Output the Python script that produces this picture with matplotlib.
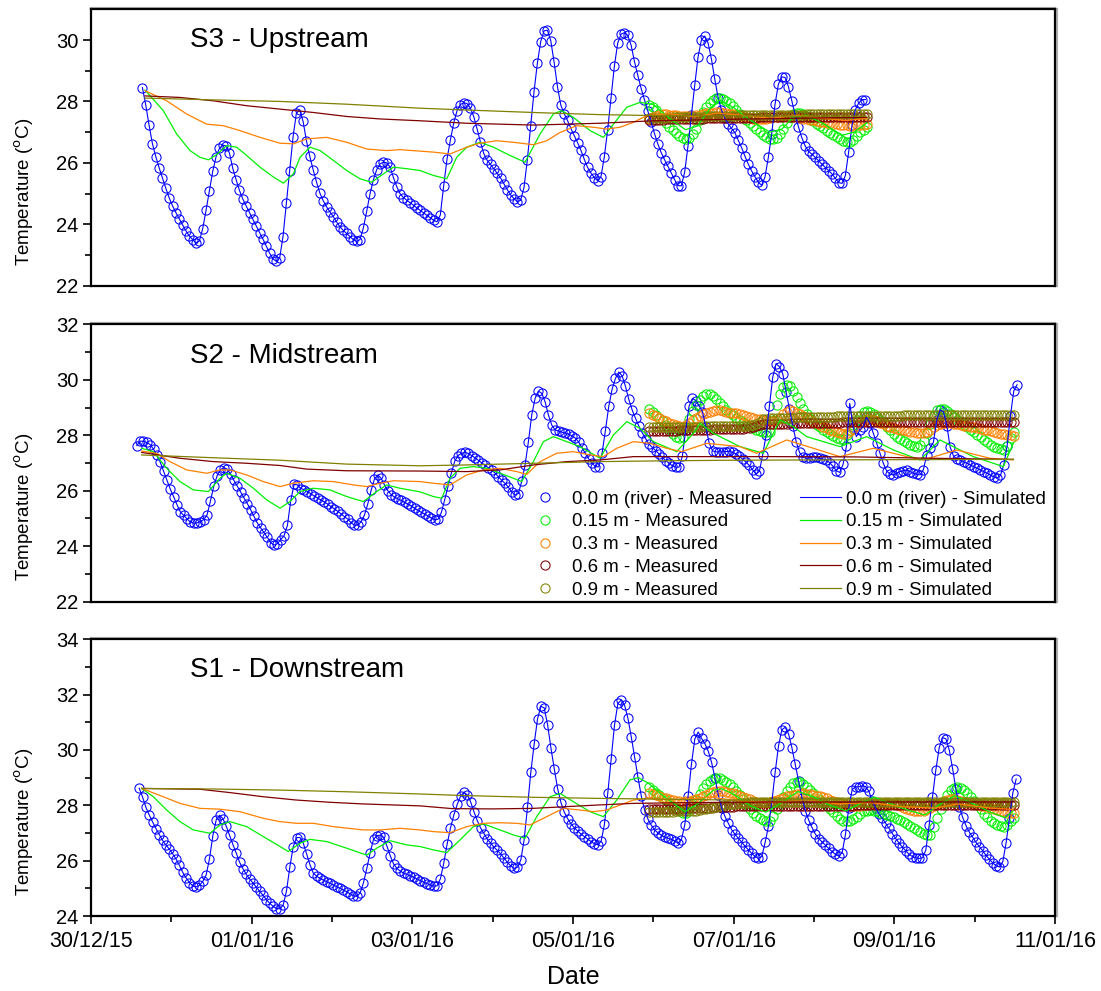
import numpy as np
import matplotlib
matplotlib.use('Agg')
import matplotlib.pyplot as plt
import matplotlib.dates as mdates
import matplotlib.patheffects as pe
from matplotlib.ticker import FixedLocator
import datetime as dt

plt.rcParams['font.family'] = ['Liberation Sans', 'DejaVu Sans']

# ---------------- data (time = days since 30/12/2015 00:00, value = degC) ----------------
DATE0 = dt.datetime(2015, 12, 30)
XTICK_DAYS = [0, 2, 4, 6, 8, 10, 12]
XMINOR_DAYS = [1, 3, 5, 7, 9, 11]

LABELS_MEAS = ['0.0 m (river) - Measured', '0.15 m - Measured', '0.3 m - Measured',
               '0.6 m - Measured', '0.9 m - Measured']
LABELS_SIM = ['0.0 m (river) - Simulated', '0.15 m - Simulated', '0.3 m - Simulated',
              '0.6 m - Simulated', '0.9 m - Simulated']
TITLES = ['S3 - Upstream', 'S2 - Midstream', 'S1 - Downstream']

# hourly logger records; first record time (days) given separately
DEPTH_START = 6.95
S3_RIVER_START = 0.64
S2_RIVER_START = 0.57
S1_RIVER_START = 0.60

# ---- S3 upstream ----
S3_RIVER = [28.45, 27.88, 27.22, 26.62, 26.20, 25.84, 25.50, 25.17, 24.86, 24.60,
            24.38, 24.18, 23.98, 23.79, 23.62, 23.50, 23.40, 23.45, 23.85, 24.45,
            25.08, 25.72, 26.20, 26.47, 26.58, 26.55, 26.32, 25.82, 25.45, 25.10,
            24.82, 24.60, 24.38, 24.16, 23.95, 23.73, 23.52, 23.29, 23.06, 22.88,
            22.79, 22.90, 23.60, 24.68, 25.75, 26.84, 27.62, 27.72, 27.35, 26.72,
            26.21, 25.78, 25.38, 25.02, 24.77, 24.57, 24.41, 24.25, 24.08, 23.92,
            23.80, 23.70, 23.60, 23.50, 23.44, 23.50, 23.88, 24.42, 24.99, 25.45,
            25.78, 25.97, 26.02, 26.00, 25.86, 25.52, 25.22, 24.99, 24.87, 24.78,
            24.70, 24.62, 24.53, 24.45, 24.37, 24.29, 24.21, 24.13, 24.08, 24.30,
            25.25, 26.12, 26.74, 27.30, 27.70, 27.90, 27.96, 27.93, 27.78, 27.50,
            27.10, 26.67, 26.30, 26.08, 25.95, 25.80, 25.66, 25.51, 25.32, 25.13,
            24.96, 24.83, 24.74, 24.78, 25.20, 26.10, 27.20, 28.32, 29.25, 29.95,
            30.30, 30.32, 29.98, 29.27, 28.48, 27.88, 27.60, 27.38, 27.12, 26.89,
            26.66, 26.41, 26.12, 25.85, 25.67, 25.52, 25.42, 25.55, 26.20, 27.08,
            28.12, 29.15, 29.90, 30.19, 30.24, 30.15, 29.83, 29.30, 28.85, 28.42,
            28.05, 27.68, 27.32, 26.95, 26.61, 26.33, 26.10, 25.89, 25.67, 25.45,
            25.26, 25.25, 25.70, 26.55, 27.55, 28.52, 29.45, 30.00, 30.13, 29.90,
            29.38, 28.72, 28.12, 27.72, 27.45, 27.27, 27.12, 26.98, 26.74, 26.50,
            26.22, 25.96, 25.74, 25.55, 25.37, 25.27, 25.54, 26.18, 26.94, 27.91,
            28.56, 28.80, 28.78, 28.48, 28.02, 27.57, 27.17, 26.82, 26.55, 26.38,
            26.28, 26.18, 26.07, 25.96, 25.85, 25.75, 25.64, 25.50, 25.36, 25.33,
            25.58, 26.36, 27.22, 27.73, 27.95, 28.06, 28.06]
S3_M015 = [27.89, 27.81, 27.72, 27.59, 27.45, 27.31, 27.18, 27.06, 26.96, 26.87,
           26.81, 26.79, 26.82, 26.93, 27.10, 27.38, 27.65, 27.83, 27.95, 28.04,
           28.10, 28.11, 28.08, 28.03, 27.95, 27.84, 27.71, 27.59, 27.48, 27.38,
           27.29, 27.20, 27.11, 27.01, 26.92, 26.85, 26.79, 26.78, 26.82, 26.94,
           27.10, 27.30, 27.48, 27.58, 27.63, 27.62, 27.59, 27.53, 27.45, 27.36,
           27.27, 27.19, 27.12, 27.05, 26.98, 26.91, 26.84, 26.78, 26.72, 26.69,
           26.68, 26.76, 26.89, 26.99, 27.08, 27.16]
S3_M030 = [27.43, 27.48, 27.52, 27.56, 27.58, 27.58, 27.57, 27.56, 27.55, 27.54,
           27.53, 27.52, 27.52, 27.53, 27.55, 27.57, 27.59, 27.61, 27.62, 27.63,
           27.64, 27.64, 27.63, 27.62, 27.60, 27.58, 27.55, 27.52, 27.50, 27.48,
           27.46, 27.44, 27.43, 27.42, 27.42, 27.43, 27.45, 27.48, 27.50, 27.52,
           27.53, 27.53, 27.52, 27.50, 27.48, 27.46, 27.44, 27.42, 27.40, 27.38,
           27.36, 27.34, 27.32, 27.30, 27.29, 27.27, 27.26, 27.24, 27.23, 27.22,
           27.21, 27.21, 27.22, 27.23, 27.24, 27.25]
S3_M060 = [27.40, 27.40, 27.41, 27.41, 27.41, 27.42, 27.42, 27.42, 27.42, 27.43,
           27.43, 27.43, 27.43, 27.44, 27.44, 27.44, 27.44, 27.45, 27.45, 27.45,
           27.45, 27.45, 27.46, 27.46, 27.46, 27.46, 27.46, 27.47, 27.47, 27.47,
           27.47, 27.47, 27.47, 27.48, 27.48, 27.48, 27.48, 27.48, 27.48, 27.48,
           27.48, 27.48, 27.48, 27.48, 27.49, 27.49, 27.49, 27.49, 27.49, 27.49,
           27.49, 27.49, 27.49, 27.49, 27.49, 27.49, 27.49, 27.49, 27.49, 27.49,
           27.49, 27.49, 27.49, 27.49, 27.49, 27.49]
S3_M090 = [27.46, 27.46, 27.47, 27.47, 27.47, 27.47, 27.48, 27.48, 27.48, 27.49,
           27.49, 27.49, 27.49, 27.50, 27.50, 27.50, 27.50, 27.51, 27.51, 27.52,
           27.52, 27.53, 27.53, 27.54, 27.54, 27.54, 27.54, 27.55, 27.55, 27.55,
           27.55, 27.55, 27.55, 27.56, 27.56, 27.56, 27.56, 27.56, 27.56, 27.57,
           27.57, 27.57, 27.57, 27.57, 27.57, 27.57, 27.57, 27.58, 27.58, 27.58,
           27.58, 27.58, 27.58, 27.58, 27.58, 27.58, 27.58, 27.58, 27.58, 27.58,
           27.58, 27.58, 27.58, 27.58, 27.58, 27.58]
S3_S015 = [(0.672, 28.37), (0.900, 27.70), (1.066, 26.94), (1.232, 26.40), (1.357, 26.18),
           (1.461, 26.10), (1.564, 26.27), (1.689, 26.56), (1.813, 26.51), (1.938, 26.24),
           (2.104, 25.86), (2.270, 25.54), (2.394, 25.34), (2.519, 25.64), (2.602, 26.18),
           (2.726, 26.51), (2.851, 26.40), (3.017, 26.08), (3.183, 25.75), (3.349, 25.48),
           (3.494, 25.37), (3.639, 25.64), (3.764, 25.86), (3.929, 25.81), (4.096, 25.75),
           (4.262, 25.59), (4.428, 25.48), (4.552, 26.18), (4.677, 26.51), (4.843, 26.67),
           (5.009, 26.51), (5.216, 26.24), (5.403, 26.02), (5.590, 26.94), (5.756, 27.59),
           (5.859, 27.70), (6.005, 27.48), (6.212, 27.05), (6.378, 26.83), (6.503, 27.26),
           (6.669, 27.81), (6.835, 27.97), (7.000, 27.90), (7.200, 27.45), (7.400, 27.08),
           (7.550, 27.20), (7.700, 27.75), (7.820, 28.05), (8.000, 27.80), (8.200, 27.40),
           (8.450, 27.00), (8.600, 27.10), (8.750, 27.50), (8.900, 27.55), (9.100, 27.30),
           (9.350, 26.90), (9.500, 27.00), (9.656, 27.30)]
S3_S030 = [(0.672, 28.35), (0.942, 28.02), (1.191, 27.59), (1.440, 27.26), (1.647, 27.21),
           (1.855, 27.05), (2.104, 26.83), (2.353, 26.64), (2.519, 26.62), (2.685, 26.78),
           (2.934, 26.83), (3.183, 26.67), (3.432, 26.45), (3.680, 26.40), (3.846, 26.43),
           (4.262, 26.35), (4.469, 26.29), (4.677, 26.51), (4.843, 26.64), (5.050, 26.72),
           (5.258, 26.67), (5.507, 26.59), (5.673, 26.72), (5.839, 26.99), (6.046, 27.21),
           (6.254, 27.16), (6.420, 27.10), (6.586, 27.16), (6.752, 27.32), (6.918, 27.54),
           (7.200, 27.60), (7.500, 27.50), (7.800, 27.62), (8.100, 27.55), (8.450, 27.45),
           (8.800, 27.55), (9.100, 27.45), (9.400, 27.38), (9.656, 27.45)]
S3_S060 = [(0.672, 28.18), (1.108, 28.13), (1.523, 28.02), (1.938, 27.86), (2.353, 27.75),
           (2.768, 27.64), (3.183, 27.51), (3.597, 27.43), (4.095, 27.37), (4.677, 27.29),
           (5.507, 27.23), (6.337, 27.29), (7.000, 27.37), (8.000, 27.42), (9.000, 27.46),
           (9.656, 27.48)]
S3_S090 = [(0.672, 28.11), (1.523, 28.05), (2.353, 28.00), (3.183, 27.91), (4.095, 27.78),
           (4.677, 27.72), (5.507, 27.64), (6.337, 27.57), (7.000, 27.54), (8.000, 27.53),
           (9.000, 27.52), (9.656, 27.52)]

# ---- S2 midstream ----
S2_RIVER = [27.63, 27.79, 27.78, 27.74, 27.66, 27.50, 27.28, 27.03, 26.71, 26.38,
            26.06, 25.79, 25.50, 25.24, 25.11, 24.99, 24.87, 24.83, 24.84, 24.89,
            24.96, 25.13, 25.63, 26.16, 26.54, 26.76, 26.83, 26.78, 26.60, 26.38,
            26.17, 25.96, 25.75, 25.54, 25.32, 25.08, 24.84, 24.66, 24.49, 24.32,
            24.13, 24.04, 24.09, 24.24, 24.38, 24.75, 25.65, 26.23, 26.21, 26.08,
            26.04, 25.97, 25.89, 25.81, 25.74, 25.67, 25.60, 25.52, 25.43, 25.35,
            25.26, 25.17, 25.07, 24.98, 24.85, 24.76, 24.76, 24.88, 25.12, 25.52,
            26.01, 26.42, 26.57, 26.45, 26.21, 26.00, 25.86, 25.77, 25.71, 25.65,
            25.58, 25.52, 25.45, 25.37, 25.29, 25.22, 25.16, 25.09, 25.02, 24.96,
            24.97, 25.22, 25.68, 26.16, 26.65, 27.07, 27.27, 27.35, 27.38, 27.35,
            27.27, 27.19, 27.10, 27.01, 26.92, 26.83, 26.74, 26.64, 26.51, 26.38,
            26.27, 26.13, 25.96, 25.85, 25.90, 26.34, 26.93, 27.77, 28.74, 29.33,
            29.59, 29.51, 29.20, 28.72, 28.36, 28.19, 28.15, 28.11, 28.08, 28.04,
            27.98, 27.90, 27.76, 27.55, 27.35, 27.15, 26.99, 26.87, 26.86, 27.35,
            28.17, 29.04, 29.66, 30.05, 30.28, 30.14, 29.76, 29.29, 28.91, 28.61,
            28.33, 28.09, 27.88, 27.69, 27.56, 27.45, 27.33, 27.20, 27.09, 26.99,
            26.90, 26.85, 26.85, 27.25, 28.20, 29.05, 29.33, 29.25, 29.06, 28.85,
            28.30, 27.72, 27.44, 27.40, 27.40, 27.40, 27.41, 27.42, 27.38, 27.33,
            27.24, 27.14, 27.03, 26.91, 26.75, 26.61, 26.70, 27.30, 28.00, 29.05,
            30.10, 30.58, 30.47, 30.21, 29.55, 28.93, 28.33, 27.77, 27.38, 27.21,
            27.17, 27.19, 27.22, 27.20, 27.17, 27.14, 27.11, 27.01, 26.88, 26.72,
            26.66, 26.95, 27.60, 29.15, 28.30, 27.95, 28.19, 28.31, 28.65, 28.44,
            28.09, 27.73, 27.37, 27.00, 26.72, 26.60, 26.57, 26.63, 26.69, 26.72,
            26.75, 26.69, 26.63, 26.60, 26.57, 26.76, 27.30, 27.55, 27.75, 28.55,
            28.91, 28.84, 28.35, 27.57, 27.25, 27.15, 27.10, 27.05, 26.99, 26.93,
            26.87, 26.81, 26.75, 26.69, 26.63, 26.57, 26.50, 26.46, 26.55, 26.92,
            27.60, 28.70, 29.60, 29.82]
S2_M015 = [28.95, 28.84, 28.72, 28.61, 28.50, 28.36, 28.21, 28.06, 27.95, 27.90,
           27.95, 28.25, 28.60, 28.88, 29.10, 29.28, 29.40, 29.48, 29.50, 29.42,
           29.30, 29.17, 29.05, 28.92, 28.80, 28.72, 28.64, 28.56, 28.48, 28.40,
           28.32, 28.25, 28.19, 28.15, 28.12, 28.11, 28.13, 28.55, 29.10, 29.48,
           29.75, 29.80, 29.78, 29.60, 29.38, 29.16, 28.95, 28.75, 28.58, 28.47,
           28.38, 28.28, 28.19, 28.11, 28.03, 27.96, 27.90, 27.87, 27.88, 28.02,
           28.20, 28.38, 28.55, 28.71, 28.83, 28.87, 28.85, 28.75, 28.64, 28.54,
           28.43, 28.31, 28.18, 28.06, 27.95, 27.86, 27.78, 27.72, 27.66, 27.61,
           27.56, 27.64, 27.80, 28.08, 28.40, 28.68, 28.90, 28.96, 28.95, 28.86,
           28.75, 28.65, 28.55, 28.47, 28.38, 28.29, 28.20, 28.11, 28.02, 27.93,
           27.84, 27.75, 27.66, 27.59, 27.53, 27.49, 27.47, 27.62, 27.90, 28.10]
S2_M030 = [28.80, 28.74, 28.68, 28.61, 28.55, 28.50, 28.45, 28.40, 28.36, 28.32,
           28.31, 28.37, 28.45, 28.54, 28.62, 28.69, 28.75, 28.81, 28.85, 28.88,
           28.90, 28.90, 28.88, 28.85, 28.82, 28.80, 28.79, 28.76, 28.72, 28.68,
           28.65, 28.62, 28.60, 28.57, 28.54, 28.52, 28.50, 28.51, 28.55, 28.64,
           28.75, 28.84, 28.90, 28.87, 28.82, 28.76, 28.70, 28.62, 28.55, 28.49,
           28.43, 28.37, 28.31, 28.25, 28.20, 28.15, 28.10, 28.07, 28.06, 28.09,
           28.15, 28.24, 28.35, 28.44, 28.52, 28.57, 28.60, 28.56, 28.50, 28.45,
           28.40, 28.35, 28.30, 28.26, 28.23, 28.20, 28.18, 28.15, 28.12, 28.10,
           28.08, 28.07, 28.07, 28.12, 28.20, 28.29, 28.38, 28.42, 28.44, 28.44,
           28.43, 28.42, 28.40, 28.38, 28.35, 28.33, 28.30, 28.28, 28.25, 28.23,
           28.20, 28.18, 28.15, 28.12, 28.08, 28.05, 28.03, 28.01, 28.00, 27.99]
S2_M060 = [28.15, 28.15, 28.15, 28.16, 28.16, 28.16, 28.17, 28.17, 28.17, 28.18,
           28.18, 28.18, 28.18, 28.19, 28.19, 28.19, 28.20, 28.20, 28.20, 28.21,
           28.21, 28.21, 28.21, 28.22, 28.22, 28.22, 28.23, 28.23, 28.24, 28.25,
           28.26, 28.30, 28.35, 28.38, 28.40, 28.40, 28.41, 28.41, 28.42, 28.42,
           28.42, 28.42, 28.43, 28.43, 28.43, 28.43, 28.44, 28.44, 28.44, 28.44,
           28.44, 28.44, 28.45, 28.45, 28.45, 28.45, 28.45, 28.45, 28.46, 28.46,
           28.46, 28.46, 28.46, 28.46, 28.46, 28.46, 28.47, 28.47, 28.47, 28.47,
           28.47, 28.47, 28.47, 28.47, 28.47, 28.47, 28.47, 28.48, 28.48, 28.48,
           28.48, 28.48, 28.48, 28.48, 28.48, 28.48, 28.48, 28.48, 28.48, 28.48,
           28.48, 28.48, 28.48, 28.48, 28.48, 28.48, 28.48, 28.48, 28.48, 28.48,
           28.48, 28.48, 28.48, 28.48, 28.48, 28.48, 28.48, 28.48, 28.48, 28.48]
S2_M090 = [28.28, 28.28, 28.28, 28.28, 28.29, 28.29, 28.29, 28.29, 28.30, 28.30,
           28.30, 28.30, 28.31, 28.31, 28.31, 28.31, 28.32, 28.32, 28.32, 28.32,
           28.33, 28.33, 28.33, 28.33, 28.34, 28.34, 28.34, 28.34, 28.35, 28.35,
           28.36, 28.37, 28.40, 28.48, 28.58, 28.60, 28.62, 28.62, 28.63, 28.63,
           28.64, 28.64, 28.64, 28.64, 28.65, 28.65, 28.65, 28.65, 28.66, 28.66,
           28.66, 28.66, 28.67, 28.67, 28.67, 28.67, 28.68, 28.68, 28.68, 28.68,
           28.69, 28.69, 28.69, 28.69, 28.70, 28.70, 28.70, 28.70, 28.70, 28.70,
           28.71, 28.71, 28.71, 28.71, 28.71, 28.71, 28.72, 28.72, 28.72, 28.72,
           28.72, 28.72, 28.72, 28.72, 28.73, 28.73, 28.73, 28.73, 28.73, 28.73,
           28.73, 28.73, 28.73, 28.73, 28.73, 28.73, 28.74, 28.74, 28.74, 28.74,
           28.74, 28.74, 28.74, 28.74, 28.74, 28.74, 28.74, 28.74, 28.74, 28.74]
S2_S015 = [(0.631, 27.53), (0.776, 27.41), (0.942, 26.81), (1.108, 26.33), (1.274, 26.03),
           (1.461, 25.97), (1.606, 26.45), (1.689, 26.63), (1.855, 26.45), (2.021, 26.09),
           (2.187, 25.67), (2.353, 25.37), (2.477, 25.61), (2.602, 25.97), (2.768, 26.09),
           (2.975, 26.03), (3.183, 25.79), (3.390, 25.61), (3.556, 25.97), (3.680, 26.21),
           (3.846, 26.09), (4.096, 25.96), (4.262, 25.79), (4.366, 25.73), (4.469, 26.45),
           (4.594, 26.81), (4.760, 26.87), (4.926, 26.81), (5.092, 26.63), (5.258, 26.45),
           (5.361, 26.33), (5.507, 27.05), (5.631, 27.77), (5.756, 27.95), (5.922, 27.77),
           (6.088, 27.59), (6.337, 27.17), (6.503, 28.01), (6.669, 28.49), (6.835, 28.25),
           (7.000, 27.77), (7.291, 27.41), (7.498, 28.07), (7.581, 28.43), (7.747, 28.07),
           (8.079, 27.59), (8.369, 27.35), (8.577, 28.55), (8.743, 28.31), (8.909, 27.95),
           (9.324, 27.59), (9.656, 27.95), (9.988, 27.47), (10.320, 27.11), (10.568, 27.83),
           (10.983, 27.23), (11.357, 26.87), (11.481, 27.71)]
S2_S030 = [(0.631, 27.43), (0.817, 27.35), (0.983, 27.05), (1.191, 26.75), (1.440, 26.63),
           (1.606, 26.75), (1.730, 26.75), (1.938, 26.57), (2.145, 26.33), (2.353, 26.15),
           (2.519, 26.27), (2.768, 26.36), (3.017, 26.33), (3.266, 26.21), (3.432, 26.15),
           (3.597, 26.27), (3.763, 26.36), (4.096, 26.33), (4.262, 26.27), (4.469, 26.21),
           (4.677, 26.57), (4.884, 26.75), (5.092, 26.81), (5.299, 26.69), (5.424, 26.59),
           (5.590, 27.05), (5.797, 27.35), (6.005, 27.41), (6.212, 27.29), (6.378, 27.23),
           (6.544, 27.53), (6.752, 27.77), (6.959, 27.71), (7.166, 27.53), (7.353, 27.41),
           (7.664, 27.71), (8.079, 27.59), (8.286, 27.35), (8.660, 27.83), (8.992, 27.53),
           (9.324, 27.23), (9.739, 27.53), (10.154, 27.23), (10.361, 27.11), (10.776, 27.47),
           (11.191, 27.17), (11.481, 27.11)]
S2_S060 = [(0.631, 27.38), (1.108, 27.17), (1.523, 27.05), (1.938, 26.99), (2.353, 26.91),
           (2.685, 26.78), (3.183, 26.72), (4.095, 26.71), (4.677, 26.69), (5.092, 26.75),
           (5.507, 26.93), (5.922, 27.05), (6.337, 27.11), (6.752, 27.23), (7.500, 27.23),
           (8.500, 27.23), (9.500, 27.22), (10.500, 27.17), (11.481, 27.13)]
S2_S090 = [(0.631, 27.29), (1.523, 27.19), (2.353, 27.10), (3.183, 26.96), (4.095, 26.90),
           (4.677, 26.93), (5.507, 26.99), (6.337, 27.05), (7.166, 27.08), (8.000, 27.10),
           (9.000, 27.11), (10.000, 27.12), (11.481, 27.13)]

# ---- S1 downstream ----
S1_RIVER = [28.62, 28.30, 27.93, 27.65, 27.40, 27.16, 26.94, 26.73, 26.56, 26.42,
            26.25, 26.06, 25.83, 25.58, 25.38, 25.21, 25.09, 25.05, 25.11, 25.25,
            25.48, 26.07, 26.90, 27.47, 27.64, 27.52, 27.25, 26.91, 26.58, 26.27,
            25.94, 25.71, 25.50, 25.34, 25.19, 25.04, 24.89, 24.75, 24.59, 24.46,
            24.35, 24.27, 24.26, 24.39, 24.90, 25.77, 26.50, 26.83, 26.84, 26.64,
            26.25, 25.86, 25.55, 25.44, 25.36, 25.30, 25.24, 25.18, 25.12, 25.06,
            25.00, 24.94, 24.88, 24.80, 24.73, 24.71, 24.83, 25.20, 25.72, 26.29,
            26.77, 26.90, 26.92, 26.85, 26.53, 26.18, 25.88, 25.72, 25.62, 25.55,
            25.50, 25.45, 25.40, 25.34, 25.28, 25.22, 25.17, 25.12, 25.08, 25.09,
            25.35, 25.92, 26.60, 27.18, 27.65, 28.03, 28.33, 28.47, 28.38, 28.13,
            27.77, 27.45, 27.18, 26.98, 26.78, 26.63, 26.49, 26.37, 26.24, 26.09,
            25.94, 25.81, 25.72, 25.76, 26.02, 26.75, 27.93, 29.20, 30.22, 31.12,
            31.58, 31.52, 30.92, 30.08, 29.32, 28.60, 28.10, 27.75, 27.52, 27.33,
            27.19, 27.07, 26.96, 26.87, 26.78, 26.69, 26.61, 26.57, 26.70, 27.32,
            28.45, 29.68, 30.90, 31.68, 31.80, 31.62, 31.15, 30.48, 29.75, 29.02,
            28.34, 27.82, 27.50, 27.28, 27.11, 27.00, 26.92, 26.85, 26.81, 26.77,
            26.71, 26.64, 26.76, 27.30, 28.35, 29.50, 30.40, 30.65, 30.42, 30.23,
            29.96, 29.55, 29.00, 28.38, 27.90, 27.60, 27.35, 27.12, 26.95, 26.81,
            26.67, 26.52, 26.39, 26.26, 26.15, 26.08, 26.15, 26.66, 27.25, 28.11,
            29.20, 30.15, 30.73, 30.82, 30.58, 30.08, 29.48, 28.88, 28.28, 27.81,
            27.47, 27.20, 26.96, 26.80, 26.68, 26.56, 26.44, 26.33, 26.23, 26.17,
            26.28, 26.95, 27.92, 28.57, 28.67, 28.67, 28.70, 28.68, 28.51, 28.15,
            27.90, 27.70, 27.53, 27.35, 27.17, 26.98, 26.80, 26.64, 26.49, 26.36,
            26.23, 26.15, 26.10, 26.08, 26.10, 26.38, 27.28, 28.30, 29.28, 30.08,
            30.45, 30.40, 30.00, 29.33, 28.58, 27.95, 27.57, 27.27, 27.03, 26.85,
            26.66, 26.51, 26.36, 26.19, 26.05, 25.92, 25.82, 25.77, 25.96, 26.65,
            27.55, 28.45, 28.95]
S1_M015 = [28.65, 28.55, 28.45, 28.37, 28.28, 28.18, 28.08, 27.99, 27.90, 27.81,
           27.74, 27.74, 27.85, 28.01, 28.20, 28.42, 28.62, 28.77, 28.88, 28.95,
           28.98, 28.97, 28.92, 28.86, 28.78, 28.66, 28.52, 28.37, 28.22, 28.05,
           27.88, 27.73, 27.60, 27.53, 27.48, 27.44, 27.42, 27.60, 27.85, 28.08,
           28.30, 28.50, 28.67, 28.79, 28.85, 28.83, 28.78, 28.67, 28.55, 28.44,
           28.32, 28.20, 28.08, 27.98, 27.88, 27.75, 27.62, 27.52, 27.45, 27.43,
           27.45, 27.51, 27.58, 27.68, 27.78, 27.81, 27.82, 27.81, 27.78, 27.74,
           27.70, 27.66, 27.62, 27.57, 27.52, 27.46, 27.40, 27.33, 27.25, 27.17,
           27.10, 27.02, 26.95, 26.92, 26.92, 27.20, 27.55, 27.86, 28.15, 28.37,
           28.55, 28.62, 28.65, 28.61, 28.55, 28.43, 28.30, 28.15, 28.00, 27.85,
           27.70, 27.57, 27.45, 27.36, 27.28, 27.24, 27.22, 27.30, 27.45, 27.55]
S1_M030 = [28.43, 28.40, 28.36, 28.32, 28.28, 28.25, 28.22, 28.19, 28.16, 28.14,
           28.13, 28.14, 28.17, 28.20, 28.23, 28.28, 28.33, 28.38, 28.43, 28.48,
           28.52, 28.52, 28.50, 28.48, 28.45, 28.43, 28.40, 28.35, 28.30, 28.26,
           28.22, 28.17, 28.13, 28.10, 28.07, 28.09, 28.12, 28.16, 28.20, 28.24,
           28.28, 28.32, 28.35, 28.38, 28.40, 28.42, 28.43, 28.42, 28.40, 28.38,
           28.35, 28.32, 28.29, 28.25, 28.20, 28.16, 28.12, 28.08, 28.04, 28.00,
           27.97, 27.96, 27.96, 27.98, 28.00, 28.02, 28.04, 28.06, 28.07, 28.07,
           28.07, 28.06, 28.05, 28.03, 28.00, 27.96, 27.92, 27.88, 27.84, 27.81,
           27.78, 27.78, 27.80, 27.86, 27.92, 27.98, 28.03, 28.09, 28.14, 28.19,
           28.24, 28.23, 28.20, 28.16, 28.13, 28.10, 28.08, 28.05, 28.02, 27.99,
           27.96, 27.93, 27.90, 27.86, 27.82, 27.79, 27.76, 27.74, 27.72, 27.71]
S1_M060 = [27.85, 27.85, 27.86, 27.86, 27.86, 27.87, 27.87, 27.87, 27.88, 27.88,
           27.88, 27.89, 27.89, 27.89, 27.90, 27.90, 27.91, 27.92, 27.92, 27.93,
           27.93, 27.94, 27.94, 27.95, 27.95, 27.95, 27.96, 27.96, 27.96, 27.96,
           27.97, 27.97, 27.97, 27.97, 27.97, 27.97, 27.97, 27.98, 27.98, 27.98,
           27.98, 27.98, 27.98, 27.98, 27.98, 27.98, 27.98, 27.98, 27.99, 27.99,
           27.99, 27.99, 27.99, 27.99, 27.99, 27.99, 27.99, 27.99, 27.99, 27.99,
           27.99, 27.99, 28.00, 28.00, 28.00, 28.00, 28.00, 28.00, 28.00, 28.00,
           28.00, 28.00, 28.00, 28.00, 28.00, 28.00, 28.00, 28.00, 28.00, 28.00,
           28.00, 28.00, 28.00, 28.00, 28.00, 28.00, 28.00, 28.00, 28.00, 28.00,
           28.00, 28.00, 28.00, 28.00, 28.00, 28.00, 28.00, 28.00, 28.00, 28.00,
           28.00, 28.00, 28.00, 28.00, 28.00, 28.00, 28.00, 28.00, 28.00, 28.00]
S1_M090 = [27.76, 27.76, 27.76, 27.76, 27.77, 27.77, 27.77, 27.77, 27.78, 27.78,
           27.78, 27.78, 27.79, 27.79, 27.80, 27.82, 27.85, 27.87, 27.90, 27.92,
           27.95, 27.97, 28.00, 28.02, 28.03, 28.05, 28.06, 28.08, 28.10, 28.10,
           28.11, 28.11, 28.12, 28.12, 28.12, 28.12, 28.12, 28.12, 28.12, 28.12,
           28.12, 28.12, 28.12, 28.12, 28.12, 28.12, 28.12, 28.12, 28.13, 28.13,
           28.13, 28.13, 28.13, 28.13, 28.13, 28.13, 28.13, 28.13, 28.13, 28.13,
           28.13, 28.13, 28.13, 28.13, 28.13, 28.13, 28.13, 28.13, 28.13, 28.13,
           28.13, 28.13, 28.13, 28.13, 28.13, 28.13, 28.13, 28.13, 28.13, 28.13,
           28.13, 28.13, 28.13, 28.13, 28.13, 28.13, 28.13, 28.13, 28.13, 28.13,
           28.13, 28.13, 28.13, 28.13, 28.13, 28.13, 28.13, 28.13, 28.13, 28.13,
           28.13, 28.13, 28.13, 28.13, 28.13, 28.13, 28.13, 28.13, 28.13, 28.13]
S1_S015 = [(0.631, 28.61), (0.776, 28.31), (0.942, 27.83), (1.108, 27.41), (1.274, 27.11),
           (1.481, 26.99), (1.606, 27.29), (1.730, 27.41), (1.938, 27.23), (2.145, 26.87),
           (2.353, 26.51), (2.456, 26.33), (2.602, 26.63), (2.726, 26.77), (2.934, 26.69),
           (3.183, 26.45), (3.432, 26.20), (3.556, 26.45), (3.722, 26.72), (3.929, 26.57),
           (4.096, 26.51), (4.262, 26.39), (4.428, 26.29), (4.594, 26.75), (4.760, 27.23),
           (4.884, 27.33), (5.092, 27.11), (5.258, 26.93), (5.403, 26.81), (5.548, 27.59),
           (5.714, 28.31), (5.839, 28.43), (6.005, 28.13), (6.212, 27.77), (6.378, 27.59),
           (6.544, 28.19), (6.710, 28.92), (6.814, 29.00), (6.938, 28.80), (7.083, 28.43),
           (7.249, 28.07), (7.395, 27.77), (7.550, 28.05), (7.750, 28.55), (7.850, 28.60),
           (8.000, 28.40), (8.200, 28.00), (8.400, 27.75), (8.600, 28.10), (8.800, 28.50),
           (9.000, 28.30), (9.200, 28.00), (9.400, 27.80), (9.600, 28.10), (9.750, 28.30),
           (10.000, 28.00), (10.200, 27.80), (10.380, 27.65), (10.550, 28.00), (10.750, 28.35),
           (10.950, 28.10), (11.200, 27.75), (11.380, 27.55), (11.481, 27.80)]
S1_S030 = [(0.631, 28.61), (0.900, 28.31), (1.108, 28.07), (1.357, 27.89), (1.606, 27.86),
           (1.855, 27.77), (2.145, 27.53), (2.353, 27.41), (2.560, 27.35), (2.768, 27.35),
           (3.017, 27.23), (3.390, 27.11), (3.597, 27.11), (3.846, 27.17), (4.096, 27.11),
           (4.262, 27.05), (4.469, 27.01), (4.677, 27.23), (4.884, 27.35), (5.092, 27.37),
           (5.299, 27.35), (5.465, 27.29), (5.673, 27.59), (5.880, 27.89), (6.088, 27.83),
           (6.254, 27.77), (6.420, 27.83), (6.586, 28.01), (6.752, 28.19), (6.917, 28.25),
           (7.300, 28.20), (7.700, 28.30), (8.100, 28.15), (8.500, 28.10), (8.900, 28.20),
           (9.300, 28.05), (9.700, 28.10), (10.100, 27.95), (10.500, 27.90), (10.800, 28.05),
           (11.200, 27.90), (11.481, 27.85)]
S1_S060 = [(0.631, 28.61), (1.357, 28.58), (1.730, 28.46), (2.145, 28.31), (2.560, 28.19),
           (2.975, 28.11), (3.390, 28.05), (4.095, 27.98), (4.500, 27.88), (5.000, 27.87),
           (5.500, 27.89), (5.900, 27.95), (6.300, 28.01), (6.750, 28.07), (7.500, 28.10),
           (8.500, 28.12), (9.500, 28.12), (10.500, 28.12), (11.481, 28.12)]
S1_S090 = [(0.631, 28.61), (1.523, 28.59), (2.353, 28.55), (3.183, 28.49), (4.095, 28.41),
           (4.677, 28.35), (5.507, 28.29), (6.337, 28.25), (7.166, 28.22), (8.000, 28.19),
           (9.000, 28.20), (10.000, 28.20), (11.481, 28.20)]

YLIMS = [(22, 31), (22, 32), (24, 34)]
YTICKS = [[22, 24, 26, 28, 30], [22, 24, 26, 28, 30, 32], [24, 26, 28, 30, 32, 34]]

# ---------------- styling ----------------
COLORS = ['#0000ff', '#00f000', '#ff8000', '#800000', '#808000']

fig = plt.figure(figsize=(11.01, 9.91), dpi=100)
W, H = 1101.0, 991.0
L, R = 91 / W, 1055 / W
panel_px = [(9.3, 285.7), (324.3, 601.7), (639.3, 916.0)]
axes = []
for top, bot in panel_px:
    axes.append(fig.add_axes([L, 1 - bot / H, R - L, (bot - top) / H]))

base = mdates.date2num(DATE0)


def hourly(start, vals):
    return start + np.arange(len(vals)) / 24.0


panels = [
    (S3_RIVER_START, S3_RIVER, [S3_M015, S3_M030, S3_M060, S3_M090], [S3_S015, S3_S030, S3_S060, S3_S090]),
    (S2_RIVER_START, S2_RIVER, [S2_M015, S2_M030, S2_M060, S2_M090], [S2_S015, S2_S030, S2_S060, S2_S090]),
    (S1_RIVER_START, S1_RIVER, [S1_M015, S1_M030, S1_M060, S1_M090], [S1_S015, S1_S030, S1_S060, S1_S090]),
]

mk = dict(marker='o', linestyle='none', mfc='none', ms=6.6, mew=0.75)

for i, (ax, (r0, river, meas, sims)) in enumerate(zip(axes, panels)):
    rt = hourly(r0, river)
    ax.plot(base + rt, river, mec=COLORS[0], label=LABELS_MEAS[0], **mk)
    for j, vals in enumerate(meas):
        ax.plot(base + hourly(DEPTH_START, vals), vals, mec=COLORS[j + 1],
                label=LABELS_MEAS[j + 1], **mk)
    ax.plot(base + rt, river, '-', color=COLORS[0], lw=0.8, label=LABELS_SIM[0])
    for j, s in enumerate(sims):
        s = np.array(s)
        ax.plot(base + s[:, 0], s[:, 1], '-', color=COLORS[j + 1], lw=0.9,
                label=LABELS_SIM[j + 1])

    ax.set_xlim(base, base + 12)
    ax.set_ylim(*YLIMS[i])
    ax.set_yticks(YTICKS[i])
    ax.yaxis.set_minor_locator(FixedLocator(np.arange(YLIMS[i][0] + 1, YLIMS[i][1], 2)))
    ax.xaxis.set_major_locator(FixedLocator(base + np.array(XTICK_DAYS)))
    ax.xaxis.set_minor_locator(FixedLocator(base + np.array(XMINOR_DAYS)))
    ax.xaxis.set_major_formatter(mdates.DateFormatter('%d/%m/%y'))
    for sp in ax.spines.values():
        sp.set_linewidth(1.6)
    ax.spines['top'].set_path_effects([pe.SimpleLineShadow(offset=(0, 1.1), shadow_color='0.5',
                                                           alpha=0.6, rho=1.0), pe.Normal()])
    ax.spines['right'].set_path_effects([pe.SimpleLineShadow(offset=(1.1, 0), shadow_color='0.5',
                                                             alpha=0.6, rho=1.0), pe.Normal()])
    ax.tick_params(axis='both', which='major', direction='out', length=6, width=1.2)
    ax.tick_params(axis='both', which='minor', direction='out', length=4, width=1.2)
    ax.tick_params(axis='y', labelsize=14.5, pad=3)
    ax.tick_params(axis='x', labelsize=15.5, pad=5)
    if i < 2:
        ax.tick_params(axis='x', which='both', bottom=False, labelbottom=False)
    ax.set_ylabel('Temperature ($^\\mathrm{o}$C)', fontsize=13.5)
    ax.yaxis.set_label_coords(-0.057, 0.34)
    ax.text(0.1027, 0.862, TITLES[i], transform=ax.transAxes, fontsize=20,
            ha='left', va='baseline')

axes[2].set_xlabel('Date', fontsize=18, labelpad=9)

h, l = axes[1].get_legend_handles_labels()
leg = axes[1].legend(h, l, ncol=2, frameon=False, fontsize=13.4, loc='upper left',
                     bbox_to_anchor=(525 / W, 1 - 490.5 / H), bbox_transform=fig.transFigure,
                     handlelength=2.2, handletextpad=0.32, columnspacing=1.5,
                     labelspacing=0.31, borderpad=0, borderaxespad=0)

fig.savefig('out.png', dpi=100)
